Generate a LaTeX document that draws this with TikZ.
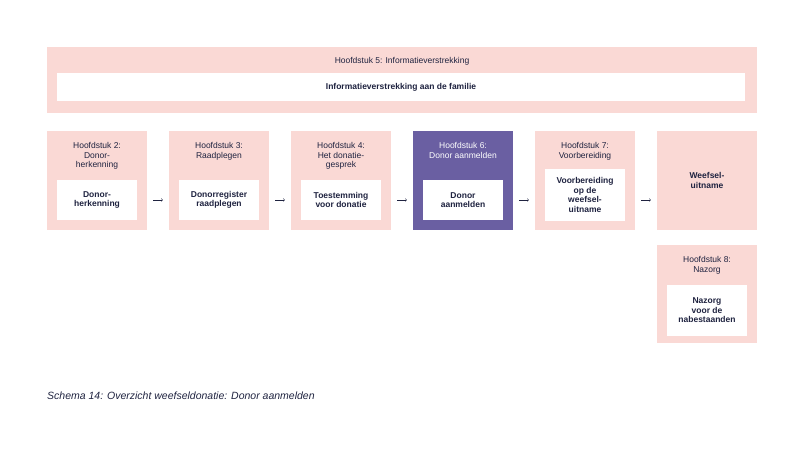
\documentclass[tikz,border=0pt]{standalone}
\usepackage{fontspec}
\setmainfont{Liberation Sans}
\usetikzlibrary{positioning,arrows}
\definecolor{roze}{HTML}{FAD9D5}
\definecolor{paars}{HTML}{6A5FA2}
\definecolor{inkt}{HTML}{1F2340}
\tikzset{
  hoofdstuk/.style={fill=roze, minimum width=100pt, minimum height=99pt, inner sep=0pt},
  kopje/.style={text=inkt, font=\fontsize{8.5}{9.5}\selectfont, align=center},
  stap/.style={fill=white, text=inkt, font=\bfseries\fontsize{8.5}{9.5}\selectfont, align=center, minimum width=80pt, minimum height=40pt, inner sep=1pt},
  pijl/.style={->, >=to, inkt, shorten >=6pt, shorten <=6pt}
}
\begin{document}
\begin{tikzpicture}[x=1pt,y=-1pt]
	\useasboundingbox (0,0) rectangle (805,474);
	% bovenste balk
	\fill[roze] (47,47) rectangle (757,113);
	\node[kopje] (h5) at (402,61) {Hoofdstuk 5: Informatieverstrekking};
	\node[stap, minimum width=688pt, minimum height=28pt] (s5) at (401,87) {Informatieverstrekking aan de familie};
	% hoofdstukken
	\node[hoofdstuk] (b2) at (97,180.5) {};
	\node[hoofdstuk] (b3) at (219,180.5) {};
	\node[hoofdstuk] (b4) at (341,180.5) {};
	\node[hoofdstuk, fill=paars] (b6) at (463,180.5) {};
	\node[hoofdstuk] (b7) at (585,180.5) {};
	\node[hoofdstuk] (b9) at (707,180.5) {};
	\node[hoofdstuk, minimum height=98pt] (b8) at (707,294) {};
	\node[kopje, anchor=north] (h2) at (97,139) {Hoofdstuk 2:\\Donor-\\herkenning};
	\node[kopje, anchor=north] (h3) at (219,139) {Hoofdstuk 3:\\Raadplegen};
	\node[kopje, anchor=north] (h4) at (341,139) {Hoofdstuk 4:\\Het donatie-\\gesprek};
	\node[kopje, anchor=north, text=white] (h6) at (463,139) {Hoofdstuk 6:\\Donor aanmelden};
	\node[kopje, anchor=north] (h7) at (585,139) {Hoofdstuk 7:\\Voorbereiding};
	\node[kopje, anchor=north] (h8) at (707,253) {Hoofdstuk 8:\\Nazorg};
	\node[stap] (s2) at (97,200) {Donor-\\herkenning};
	\node[stap] (s3) at (219,200) {Donorregister\\raadplegen};
	\node[stap] (s4) at (341,200) {Toestemming\\voor donatie};
	\node[stap] (s6) at (463,200) {Donor\\aanmelden};
	\node[stap, minimum height=52pt] (s7) at (585,195) {Voorbereiding\\op de\\weefsel-\\uitname};
	\node[stap, fill=none] (s9) at (707,180.5) {Weefsel-\\uitname};
	\node[stap, minimum height=51pt] (s8) at (707,310.5) {Nazorg\\voor de\\nabestaanden};
	% pijlen
	\draw[pijl] (b2.east |- s2) -- (b3.west |- s2);
	\draw[pijl] (b3.east |- s2) -- (b4.west |- s2);
	\draw[pijl] (b4.east |- s2) -- (b6.west |- s2);
	\draw[pijl] (b6.east |- s2) -- (b7.west |- s2);
	\draw[pijl] (b7.east |- s2) -- (b9.west |- s2);
	\node[anchor=west, text=inkt, font=\itshape\fontsize{10.5}{12}\selectfont, inner sep=0pt] (bijschrift) at (47,396) {Schema 14: Overzicht weefseldonatie: Donor aanmelden};
\end{tikzpicture}
\end{document}
